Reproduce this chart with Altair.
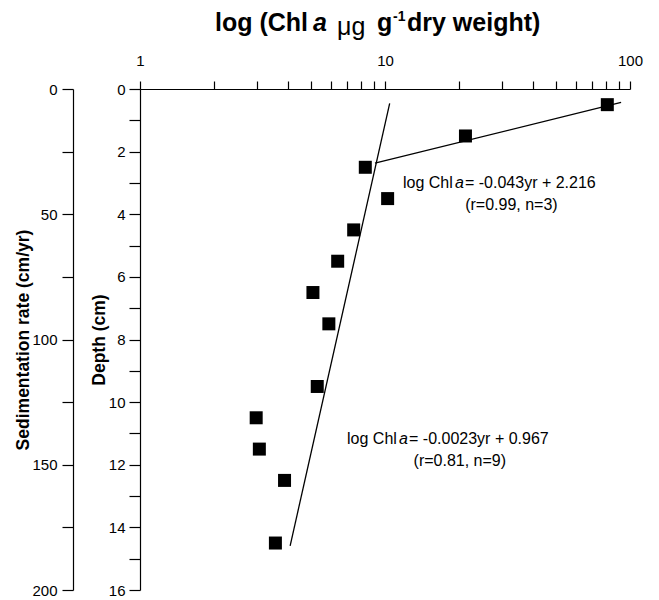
import altair as alt
import pandas as pd

# ---- data ----
chl = [80.8, 21.3, 8.31, 10.25, 7.45, 6.41, 5.08, 5.90, 5.29, 2.98, 3.07, 3.89, 3.57]
depth = [0.5, 1.5, 2.5, 3.5, 4.5, 5.5, 6.5, 7.5, 9.5, 10.5, 11.5, 12.5, 14.5]

fit_seg = ["upper", "upper", "lower", "lower"]
fit_chl = [92.0, 9.1, 10.45, 4.10]
fit_depth = [0.43, 2.37, 0.46, 14.59]

x_ticks = [1, 2, 3, 4, 5, 6, 7, 8, 9, 10, 20, 30, 40, 50, 60, 70, 80, 90, 100]
depth_ticks = list(range(0, 17))
sed_ticks = [0, 25, 50, 75, 100, 125, 150, 175, 200]

eq_text = ["= -0.043yr + 2.216", "= -0.0023yr + 0.967"]
eq_chl = [11.84, 7.0]
eq_depth = [3.15, 11.33]
stat_text = ["(r=0.99, n=3)", "(r=0.81, n=9)"]
stat_chl = [32.8, 20.2]
stat_depth = [3.88, 12.04]

FONT = "Liberation Sans"

pts = pd.DataFrame({"chl": chl, "depth": depth})
fits = pd.DataFrame({"seg": fit_seg, "chl": fit_chl, "depth": fit_depth})
eqs = pd.DataFrame({"chl": eq_chl, "depth": eq_depth, "eq": eq_text})
stats = pd.DataFrame({"chl": stat_chl, "depth": stat_depth, "st": stat_text})
sed = pd.DataFrame({"sed": [0, 200]})

X = alt.X(
    "chl:Q",
    scale=alt.Scale(type="log", domain=[1, 100], nice=False),
    axis=alt.Axis(
        orient="top", values=x_ticks, title=None, grid=False,
        labelExpr="indexof([1,10,100], datum.value) >= 0 ? format(datum.value, 'd') : ''",
        tickSize=8, labelPadding=13, labelFlush=False, labelOverlap=False,
        labelFontSize=15,
    ),
)
Y = alt.Y(
    "depth:Q",
    scale=alt.Scale(domain=[0, 16], reverse=True, nice=False, zero=False),
    axis=alt.Axis(
        orient="left", values=depth_ticks, grid=False,
        labelExpr="datum.value % 2 === 0 ? datum.label : ''",
        tickSize=11, labelPadding=4, labelOverlap=False, labelFontSize=15,
        title="Depth (cm)", titleX=-41, titleY=250.5, titleAngle=270,
        titleAlign="center", titleBaseline="middle", titleFontSize=17.5,
    ),
)

points = alt.Chart(pts).mark_square(size=169, color="black", opacity=1).encode(x=X, y=Y)
lines = alt.Chart(fits).mark_line(color="black", strokeWidth=1.3).encode(x=X, y=Y, detail="seg:N")

t_log = alt.Chart(eqs).mark_text(text="log Chl", align="left", baseline="alphabetic",
                                 font=FONT, fontSize=16, color="black").encode(x=X, y=Y)
t_a = alt.Chart(eqs).mark_text(text="a", align="left", baseline="alphabetic", dx=52,
                               font=FONT, fontSize=16, fontStyle="italic", color="black").encode(x=X, y=Y)
t_eq = alt.Chart(eqs).mark_text(align="left", baseline="alphabetic", dx=62,
                                font=FONT, fontSize=16, color="black").encode(x=X, y=Y, text="eq:N")
t_st = alt.Chart(stats).mark_text(align="center", baseline="alphabetic",
                                  font=FONT, fontSize=16, color="black").encode(x=X, y=Y, text="st:N")

one = alt.Data(values=[{}])
def title_piece(txt, px, py, size=25, weight="bold", style="normal"):
    return alt.Chart(one).mark_text(
        text=txt, align="left", baseline="alphabetic", font=FONT, fontSize=size,
        fontWeight=weight, fontStyle=style, color="black"
    ).encode(x=alt.value(px), y=alt.value(py))

title_layers = [
    title_piece("log (Chl", 75, -58),
    title_piece("a", 173, -58, style="italic"),
    title_piece("\u03bcg", 197, -54, weight="normal"),
    title_piece("g", 237, -58),
    title_piece("-1", 253, -68, size=14),
    title_piece("dry weight)", 267, -58),
]

main = alt.layer(lines, points, t_log, t_a, t_eq, t_st, *title_layers)

sed_layer = alt.Chart(sed).mark_point(opacity=0).encode(
    y=alt.Y(
        "sed:Q",
        scale=alt.Scale(domain=[0, 200], reverse=True, nice=False, zero=False),
        axis=alt.Axis(
            orient="left", offset=67, values=sed_ticks, grid=False,
            labelExpr="datum.value % 50 === 0 ? datum.label : ''",
            tickSize=11, labelPadding=5, labelOverlap=False, labelFontSize=15,
            title="Sedimentation rate (cm/yr)", titleX=-50, titleY=250.5, titleAngle=270,
            titleAlign="center", titleBaseline="middle", titleFontSize=17.5,
        ),
    )
)

chart = alt.layer(main, sed_layer).resolve_scale(y="independent").properties(
    width=490, height=501,
    autosize=alt.AutoSizeParams(type="none"),
    padding={"left": 140, "top": 89, "right": 29, "bottom": 10},
    background="white",
).configure_view(strokeWidth=0).configure_axis(
    labelFont=FONT, titleFont=FONT, labelColor="black", titleColor="black",
    domainColor="black", tickColor="black", domainWidth=1.2, tickWidth=1.2,
    titleFontWeight="bold",
)

chart.save("out.html", embed_options={"renderer": "svg", "actions": False})
